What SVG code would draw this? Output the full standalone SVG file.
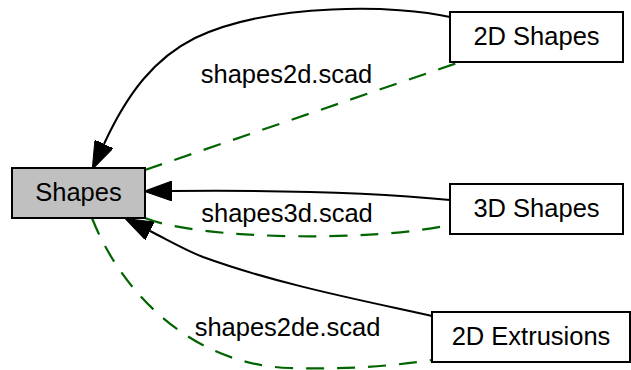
<svg xmlns="http://www.w3.org/2000/svg" width="631" height="370" viewBox="0 0 631 370">
<style>
.node rect{stroke:#000;stroke-width:2;fill:#fff}
#shapes rect{fill:#c0c0c0}
text{font-family:"Liberation Sans",Arial,Helvetica,sans-serif;font-size:25.5px;fill:#000;text-anchor:middle}
.dep{fill:none;stroke:#000;stroke-width:2}
.inc{fill:none;stroke:#006400;stroke-width:2.2;stroke-dasharray:18,13}
</style>
<defs>
<marker id="arr" viewBox="0 0 28 20" markerWidth="28" markerHeight="20" refX="0" refY="10" orient="auto" markerUnits="userSpaceOnUse">
<path d="M0,0 L28,10 L0,20 z" fill="#000" stroke="#000" stroke-width="1"/>
</marker>
</defs>
<g id="connectors">
<path class="dep" d="M450,17 C400,5 270,2 195,38 C155,58 128,92 104,144" marker-end="url(#arr)"/>
<path class="inc" d="M145,170 L460,62"/>
<path class="dep" d="M450,200 C380,193 280,190 172,191" marker-end="url(#arr)"/>
<path class="inc" d="M145,218 C200,240 370,242 450,225"/>
<path class="dep" d="M432,316 C370,302 280,285 203,257 C185,250 168,240 150,231" marker-end="url(#arr)"/>
<path class="inc" d="M92,218 C120,290 190,365 290,368 C350,370 400,365 432,360"/>
<text x="286.5" y="83">shapes2d.scad</text>
<text x="287" y="222">shapes3d.scad</text>
<text x="287.5" y="336">shapes2de.scad</text>
</g>
<g id="shapes" class="node"><rect x="12" y="168" width="133" height="50"/><text x="78.5" y="201">Shapes</text></g>
<g id="shapes2d" class="node"><rect x="450" y="12" width="173" height="50"/><text x="536.5" y="45">2D Shapes</text></g>
<g id="shapes3d" class="node"><rect x="450" y="184" width="173" height="50"/><text x="536.5" y="217">3D Shapes</text></g>
<g id="shapes2de" class="node"><rect x="432" y="312" width="198" height="50"/><text x="531" y="345">2D Extrusions</text></g>
</svg>
